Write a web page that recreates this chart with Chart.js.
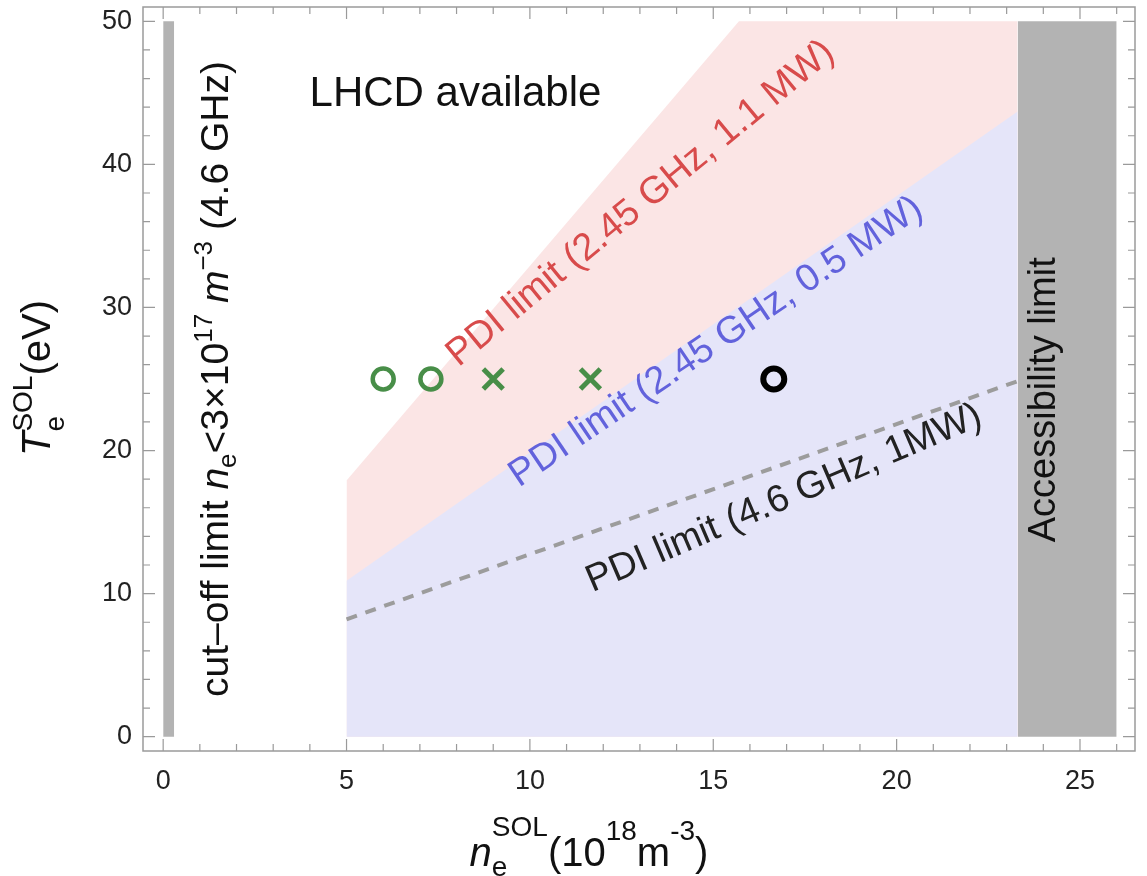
<!DOCTYPE html>
<html><head><meta charset="utf-8">
<script src="https://cdn.jsdelivr.net/npm/chart.js@4"></script>
<style>html,body{margin:0;padding:0;background:#fff}#wrap{width:1147px;height:876px;position:relative}</style>
</head><body><div id="wrap"><canvas id="c"></canvas></div>
<script>
// ---- data ----
const xTicks = [0, 5, 10, 15, 20, 25];
const yTicks = [0, 10, 20, 30, 40, 50];
const cutoffX = [0, 0.3];
const cutoffY = [50, 50];
const accessX = [23.3, 26];
const accessY = [50, 50];
const redX = [5, 15.7, 23.3];
const redY = [17.9, 50, 50];
const blueX = [5, 23.3];
const blueY = [10.9, 43.7];
const dashX = [5, 23.3];
const dashY = [8.2, 24.85];
const circX = [6.0, 7.3];
const circY = [25, 25];
const crossX = [9.0, 11.65];
const crossY = [25, 25];
const blackX = [16.65];
const blackY = [25];

const FAM = '"Liberation Sans", Arial, Helvetica, sans-serif';
const pts = (xs, ys) => xs.map((x, i) => ({x, y: ys[i]}));
const GREEN = 'rgb(72,142,72)';

function fontOf(r){ return (r.i ? 'italic ' : '') + r.s + 'px ' + FAM; }
function drawRuns(ctx, runs, x, y, angle, align, color){
  let w = 0; const pos = []; let i = 0;
  while (i < runs.length){
    const r = runs[i];
    ctx.font = fontOf(r);
    const rw = ctx.measureText(r.t).width;
    if (r.stack){
      const r2 = runs[i+1]; ctx.font = fontOf(r2);
      const rw2 = ctx.measureText(r2.t).width;
      pos.push([r, w]); pos.push([r2, w]);
      w += Math.max(rw, rw2); i += 2;
    } else { pos.push([r, w]); w += rw; i++; }
  }
  ctx.save();
  ctx.translate(x, y); ctx.rotate(angle * Math.PI / 180);
  ctx.textAlign = 'left'; ctx.textBaseline = 'alphabetic';
  const x0 = align === 'center' ? -w / 2 : 0;
  for (const [r, off] of pos){
    ctx.font = fontOf(r); ctx.fillStyle = color;
    ctx.fillText(r.t, x0 + off, r.dy || 0);
  }
  ctx.restore();
}

const B = 38, S = 26;
const annotations = [
  {runs: [{t:'LHCD available', s:42}], x: 7.97, y: 44.1, angle: 0, align: 'center', color: '#111'},
  {runs: [{t:'cut\u2013off limit ', s:39}, {t:'n', s:39, i:true}, {t:'e', s:S, dy:8},
          {t:'<3\u00d710', s:39}, {t:'17', s:S, dy:-16}, {t:' ', s:39}, {t:'m', s:39, i:true},
          {t:'\u22123', s:S, dy:-16}, {t:' (4.6 GHz)', s:39}],
   x: 1.78, y: 25.0, angle: -90, align: 'center', color: '#111'},
  {runs: [{t:'PDI limit (2.45 GHz, 1.1 MW)', s:B}], x: 8.05, y: 25.8, angle: -39.5, align: 'left', color: '#d84b4b'},
  {runs: [{t:'PDI limit (2.45 GHz, 0.5 MW)', s:B}], x: 9.7, y: 17.4, angle: -34, align: 'left', color: '#6262dc'},
  {runs: [{t:'PDI limit (4.6 GHz, 1MW)', s:B}], x: 11.7, y: 10.1, angle: -23.2, align: 'left', color: '#222'},
  {runs: [{t:'Accessibility limit', s:B}], x: 24.33, y: 23.55, angle: -90, align: 'center', color: '#111'}
];

const framePlugin = {
  id: 'frame',
  beforeDraw(chart){
    const c = chart.ctx; c.save(); c.fillStyle = '#fff'; c.fillRect(0, 0, chart.width, chart.height); c.restore();
  },
  afterDraw(chart){
    const {ctx, chartArea: a, scales: {x, y}} = chart;
    ctx.save();
    ctx.strokeStyle = '#9a9a9a'; ctx.lineWidth = 1.5;
    ctx.strokeRect(a.left, a.top, a.right - a.left, a.bottom - a.top);
    ctx.lineWidth = 1.2;
    ctx.beginPath();
    for (let v = 0; v <= 26; v++){
      const p = x.getPixelForValue(v); const L = v % 5 === 0 ? 12 : 7;
      ctx.moveTo(p, a.bottom); ctx.lineTo(p, a.bottom - L);
      ctx.moveTo(p, a.top); ctx.lineTo(p, a.top + L);
    }
    for (let v = 0; v <= 50; v += 2){
      const p = y.getPixelForValue(v); const L = v % 10 === 0 ? 12 : 7;
      ctx.moveTo(a.left, p); ctx.lineTo(a.left + L, p);
      ctx.moveTo(a.right, p); ctx.lineTo(a.right - L, p);
    }
    ctx.stroke();
    for (const an of annotations){
      drawRuns(ctx, an.runs, x.getPixelForValue(an.x), y.getPixelForValue(an.y), an.angle, an.align, an.color);
    }
    drawRuns(ctx, [{t:'n', s:40, i:true}, {t:'SOL', s:28, dy:-30, stack:true}, {t:'e', s:28, dy:10},
                   {t:'(10', s:40}, {t:'18', s:28, dy:-26}, {t:'m', s:40}, {t:'-3', s:28, dy:-26}, {t:')', s:40}],
             589, 866, 0, 'center', '#111');
    drawRuns(ctx, [{t:'T', s:40, i:true}, {t:'SOL', s:28, dy:-18, stack:true}, {t:'e', s:28, dy:14},
                   {t:'(eV)', s:40}],
             50, 378, -90, 'center', '#111');
    ctx.restore();
  }
};

const line = (data, bg, order) => ({data, showLine: true, fill: 'origin', backgroundColor: bg,
  borderWidth: 0, borderColor: 'rgba(0,0,0,0)', pointRadius: 0, tension: 0, order});

new Chart(document.getElementById('c'), {
  type: 'scatter',
  data: {datasets: [
    line(pts(cutoffX, cutoffY), '#b3b3b3', 5),
    line(pts(accessX, accessY), '#b3b3b3', 5),
    line(pts(redX, redY), 'rgb(251,229,229)', 4),
    line(pts(blueX, blueY), 'rgb(229,229,249)', 3),
    {data: pts(dashX, dashY), showLine: true, fill: false, borderColor: '#9c9c9c', borderWidth: 4,
     borderDash: [11, 9], pointRadius: 0, order: 2},
    {data: pts(circX, circY), pointStyle: 'circle', pointRadius: 10.5, pointBorderWidth: 4.5,
     pointBackgroundColor: 'rgba(0,0,0,0)', pointBorderColor: GREEN, order: 1},
    {data: pts(crossX, crossY), pointStyle: 'crossRot', pointRadius: 14, pointBorderWidth: 5,
     pointBorderColor: GREEN, order: 1},
    {data: pts(blackX, blackY), pointStyle: 'circle', pointRadius: 10.5, pointBorderWidth: 6,
     pointBackgroundColor: 'rgba(0,0,0,0)', pointBorderColor: '#000', order: 0}
  ]},
  options: {
    responsive: true, maintainAspectRatio: false, animation: false,
    layout: {autoPadding: false, padding: {top: 7, right: 12, left: 0, bottom: 0}},
    plugins: {legend: {display: false}, tooltip: {enabled: false}},
    events: [],
    scales: {
      x: {type: 'linear', min: -0.55, max: 26.5,
          afterBuildTicks: s => { s.ticks = xTicks.map(v => ({value: v})); },
          afterFit: s => { s.height = 125; s.paddingLeft = 0; s.paddingRight = 0; },
          grid: {display: false, drawTicks: false}, border: {display: false},
          ticks: {font: {size: 27, family: FAM}, color: '#222', padding: 14, maxRotation: 0, autoSkip: false}},
      y: {type: 'linear', min: -1, max: 51,
          afterBuildTicks: s => { s.ticks = yTicks.map(v => ({value: v})); },
          afterFit: s => { s.width = 143; s.paddingTop = 0; s.paddingBottom = 0; },
          grid: {display: false, drawTicks: false}, border: {display: false},
          ticks: {font: {size: 27, family: FAM}, color: '#222', padding: 11, autoSkip: false}}
    }
  },
  plugins: [framePlugin]
});
</script></body></html>
